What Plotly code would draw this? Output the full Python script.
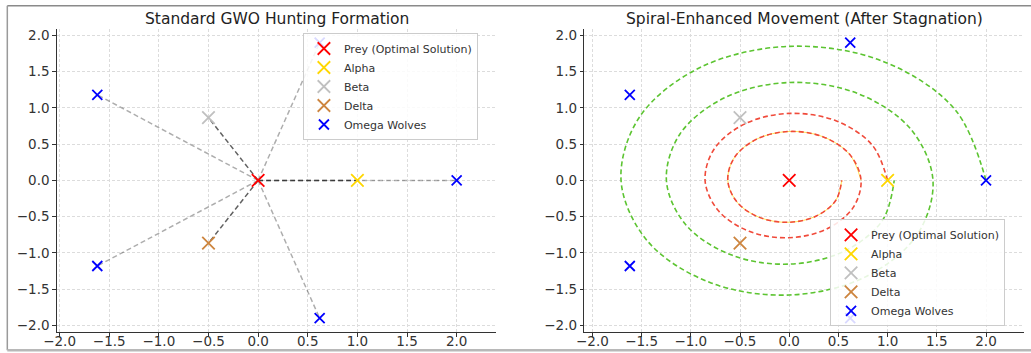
import plotly.graph_objects as go

# ---------------- data ----------------
prey = (0.0, 0.0)
alpha = (1.0, 0.0)
beta = (-0.5, 0.866)
delta = (-0.5, -0.866)
omega_x = [2.0, 0.62, -1.62, -1.62, 0.62]
omega_y = [0.0, 1.90, 1.18, -1.18, -1.90]

# spiral traced from alpha towards the prey (red, with gold inner turn)
red_x = [1.000, 0.844, 0.474, 0.000, -0.450, -0.760, -0.855, -0.721, -0.406, 0.000, 0.385, 0.649,
         0.730, 0.616, 0.347, 0.000, -0.329, -0.555, -0.624, -0.527, -0.296, 0.000, 0.281, 0.474, 0.534]
red_y = [0.000, 0.487, 0.822, 0.924, 0.780, 0.439, 0.000, -0.416, -0.702, -0.790, -0.667, -0.375,
         0.000, 0.356, 0.600, 0.675, 0.570, 0.320, 0.000, -0.304, -0.513, -0.577, -0.487, -0.274, 0.000]
# spiral traced from the omega at (2, 0) towards alpha (green)
green_x = [2.000, 1.687, 0.949, 0.000, -0.901, -1.520, -1.709, -1.442, -0.811, 0.000, 0.770, 1.299,
           1.461, 1.232, 0.693, 0.000, -0.658, -1.110, -1.248, -1.053, -0.592, 0.000, 0.562, 0.949, 1.067]
green_y = [0.000, 0.974, 1.644, 1.849, 1.560, 0.877, 0.000, -0.833, -1.405, -1.580, -1.333, -0.750,
           0.000, 0.712, 1.200, 1.350, 1.139, 0.641, 0.000, -0.608, -1.026, -1.154, -0.974, -0.548, 0.000]

titles = ["Standard GWO Hunting Formation", "Spiral-Enhanced Movement (After Stagnation)"]
legend_names = ["Prey (Optimal Solution)", "Alpha", "Beta", "Delta", "Omega Wolves"]
tick_vals = [-2.0, -1.5, -1.0, -0.5, 0.0, 0.5, 1.0, 1.5, 2.0]

# ---------------- styling ----------------
FONT = "DejaVu Sans"
C_PREY, C_ALPHA, C_BETA, C_DELTA, C_OMEGA = "#ff0000", "#ffd700", "#c0c0c0", "#cd853f", "#0000ff"
DASH = "5px,3px"

W, H = 1031, 353
L_PX, R_PX, T_PX, B_PX = 56.7, 1024.0, 29.3, 332.3
PW, PH = R_PX - L_PX, B_PX - T_PX


def px2x(px):
    return (px - L_PX) / PW


def py2y(py):
    return (B_PX - py) / PH


fig = go.Figure()

# ---------- left panel: lines from prey to each wolf ----------
leaders = [alpha, beta, delta]
for (lx, ly) in leaders:
    fig.add_trace(go.Scatter(x=[prey[0], lx], y=[prey[1], ly], mode="lines",
                             line=dict(color="rgba(0,0,0,0.62)", width=1.5, dash=DASH),
                             showlegend=False, hoverinfo="skip", xaxis="x", yaxis="y"))
for ox, oy in zip(omega_x, omega_y):
    fig.add_trace(go.Scatter(x=[prey[0], ox], y=[prey[1], oy], mode="lines",
                             line=dict(color="rgba(0,0,0,0.32)", width=1.5, dash=DASH),
                             showlegend=False, hoverinfo="skip", xaxis="x", yaxis="y"))

# ---------- right panel: spirals ----------
fig.add_trace(go.Scatter(x=green_x, y=green_y, mode="lines", line_shape="spline",
                         line=dict(color="#5cc431", width=1.6, dash=DASH),
                         showlegend=False, hoverinfo="skip", xaxis="x2", yaxis="y2"))
fig.add_trace(go.Scatter(x=red_x[12:], y=red_y[12:], mode="lines", line_shape="spline",
                         line=dict(color="rgba(255,215,0,0.85)", width=0.8),
                         showlegend=False, hoverinfo="skip", xaxis="x2", yaxis="y2"))
fig.add_trace(go.Scatter(x=red_x, y=red_y, mode="lines", line_shape="spline",
                         line=dict(color="#f04a3a", width=1.6, dash=DASH),
                         showlegend=False, hoverinfo="skip", xaxis="x2", yaxis="y2"))

# ---------- markers (both panels) ----------
points = [
    ([prey[0]], [prey[1]], C_PREY, 12.5),
    ([alpha[0]], [alpha[1]], C_ALPHA, 12.5),
    ([beta[0]], [beta[1]], C_BETA, 12.5),
    ([delta[0]], [delta[1]], C_DELTA, 12.5),
    (omega_x, omega_y, C_OMEGA, 10),
]
for ax_i, (xa, ya, leg) in enumerate([("x", "y", "legend"), ("x2", "y2", "legend2")]):
    for name, (px, py, col, sz) in zip(legend_names, points):
        fig.add_trace(go.Scatter(x=px, y=py, mode="markers", name=name,
                                 marker=dict(symbol="x-thin-open", size=sz, color=col,
                                             line=dict(color=col, width=1.8)),
                                 xaxis=xa, yaxis=ya, legend=leg))

axis_common = dict(
    tickmode="array", tickvals=tick_vals, tickformat=".1f",
    showgrid=True, gridcolor="#dcdcdc", gridwidth=1, griddash="3px,2px",
    zeroline=False, showline=True, linecolor="#333333", linewidth=1.4,
    ticks="outside", ticklen=3.5, tickcolor="#333333", tickwidth=1,
    tickfont=dict(family=FONT, size=13.5, color="#333333"),
    mirror=False, automargin=False,
)
xaxis_extra = dict(ticklabelstandoff=-7)

dom1 = [0.0, px2x(496.0)]
dom2 = [px2x(584.3), 1.0]

fig.update_layout(
    width=W, height=H, autosize=False,
    margin=dict(l=L_PX, r=W - R_PX, t=T_PX, b=H - B_PX, pad=0),
    paper_bgcolor="white", plot_bgcolor="white",
    font=dict(family=FONT, color="#333333"),
    xaxis=dict(domain=dom1, range=[-2.026, 2.398], anchor="y", **axis_common, **xaxis_extra),
    yaxis=dict(domain=[0, 1], range=[-2.09, 2.088], anchor="x", **axis_common),
    xaxis2=dict(domain=dom2, range=[-2.081, 2.386], anchor="y2", **axis_common, **xaxis_extra),
    yaxis2=dict(domain=[0, 1], range=[-2.09, 2.088], anchor="x2", **axis_common),
    legend=dict(x=px2x(302.7), y=py2y(33.3), xanchor="left", yanchor="top",
                bgcolor="rgba(255,255,255,0.85)", bordercolor="#cccccc", borderwidth=1,
                font=dict(family=FONT, size=11, color="#333333"), itemwidth=30),
    legend2=dict(x=px2x(830.0), y=py2y(326.7), xanchor="left", yanchor="bottom",
                 bgcolor="rgba(255,255,255,0.85)", bordercolor="#cccccc", borderwidth=1,
                 font=dict(family=FONT, size=11, color="#333333"), itemwidth=30),
    showlegend=True,
)

# titles
for title, dom in zip(titles, [dom1, dom2]):
    fig.add_annotation(text=title, x=(dom[0] + dom[1]) / 2, y=py2y(19.0), xref="paper", yref="paper",
                       xanchor="center", yanchor="middle", showarrow=False,
                       font=dict(family=FONT, size=15.5, color="#222222"))

# frame of the screenshot
x0, x1 = px2x(7.0), px2x(1032.0)
y0, y1 = py2y(350.5), py2y(6.0)
fig.add_shape(type="line", xref="paper", yref="paper", x0=x0, x1=x1, y0=y1, y1=y1,
              line=dict(color="#8a8a8a", width=1.5))
fig.add_shape(type="line", xref="paper", yref="paper", x0=x0, x1=x0, y0=y0, y1=y1,
              line=dict(color="#9a9a9a", width=1.5))
fig.add_shape(type="line", xref="paper", yref="paper", x0=x0, x1=x1, y0=y0, y1=y0,
              line=dict(color="#b8b8b8", width=2.5))

fig.write_html("out.html", config={"displayModeBar": False},
               post_script="document.body.style.margin='0';document.body.style.padding='0';"
                           "document.body.style.overflow='hidden';")
